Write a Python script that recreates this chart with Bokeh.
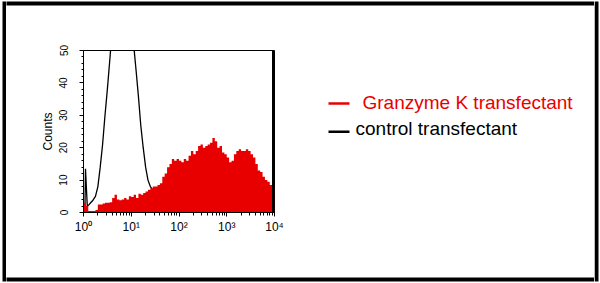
from bokeh.plotting import figure
from bokeh.layouts import row, column
from bokeh.models import Range1d, SingleIntervalTicker, LogTicker, Span
from bokeh.core.properties import value
from bokeh.embed import file_html
from bokeh.resources import INLINE

# ---- data -------------------------------------------------------------
# Granzyme K transfectant histogram: counts per bin, bins 0.05 decade wide from 10^0 to 10^4
bin_width_dec = 0.05
gzk_counts = [3, 2, 0.5, 0.5, 0.5, 0.8, 2.5, 2.5, 2.8, 3,
              3, 3.2, 4.5, 5.5, 4, 3.8, 4, 4.5, 4, 5,
              4.8, 5.5, 4.5, 5.8, 5.5, 6, 6.5, 7, 7.5, 8,
              8, 8.5, 9, 11, 12, 14, 15, 16.5, 16, 16.5,
              16, 15.5, 16.5, 16, 17.5, 19, 18, 19, 20.5, 21,
              20, 20.5, 21, 21.5, 23, 22, 20, 20.5, 18.5, 18,
              17, 15.5, 16, 18, 19, 19.5, 19, 19, 19.5, 19,
              18, 17, 15, 13, 12.5, 11, 10, 9.5, 8.5, 8]

# control transfectant histogram outline (fluorescence, counts)
ctrl_fl = [1.07, 1.10, 1.20, 1.32, 1.41, 1.58, 1.78, 2.00, 2.24, 2.51, 2.82,
           3.16, 3.55, 3.98, 5.01, 6.31, 7.94, 10.0, 11.2, 12.6, 14.1, 15.8,
           17.8, 20.0, 22.4, 25.1, 28.2, 31.6, 39.8, 63.1, 100, 316, 1000, 10000]
ctrl_counts = [0, 13.5, 2, 2.5, 3, 3.8, 5, 8, 14, 21, 30,
               38, 47, 56, 66, 70, 66, 58, 52, 44, 36, 27,
               20, 14, 10, 8, 7, 6, 5, 3, 2, 1, 0.5, 0]

x_ticks = [1, 10, 100, 1000, 10000]
x_tick_labels = ["10\u2070", "10\u00b9", "10\u00b2", "10\u00b3", "10\u2074"]

series_names = ["Granzyme K transfectant", "control transfectant"]
series_colors = ["#e80000", "#000000"]

FONT = "Liberation Sans"
W, H = 600, 283
TOP, BOT = 30, 30          # heights of the top / bottom frame strips
SIDE = 6                   # widths of the left / right frame strips
MID_H = H - TOP - BOT
SPLIT = 290                # x where the histogram panel ends and the legend panel begins


def pixel_panel(x0, x1, y0, y1):
    """A bare figure whose data coordinates are page pixels (y downward)."""
    f = figure(width=x1 - x0, height=y1 - y0, output_backend="svg", title=None,
               toolbar_location=None, x_range=Range1d(x0, x1), y_range=Range1d(y1, y0),
               x_axis_location=None, y_axis_location=None, frame_align=False,
               min_border=0, min_border_left=0, min_border_right=0,
               min_border_top=0, min_border_bottom=0)
    f.background_fill_color = "white"
    f.border_fill_color = "white"
    f.outline_line_color = None
    f.xgrid.visible = False
    f.ygrid.visible = False
    return f


# ---- outer black frame: full-height side strips, top/bottom strips between them
left_strip = pixel_panel(0, SIDE, 0, H)
left_strip.quad(left=2, right=6, top=1, bottom=281, fill_color="black", line_color=None)
right_strip = pixel_panel(W - SIDE, W, 0, H)
right_strip.quad(left=594, right=598, top=1, bottom=281, fill_color="black", line_color=None)
top_strip = pixel_panel(SIDE, W - SIDE, 0, TOP)
top_strip.quad(left=SIDE - 1, right=W - SIDE + 1, top=1, bottom=5, fill_color="black", line_color=None)
bot_strip = pixel_panel(SIDE, W - SIDE, H - BOT, H)
bot_strip.quad(left=SIDE - 1, right=W - SIDE + 1, top=277, bottom=281, fill_color="black", line_color=None)

# ---- histogram figure ---------------------------------------------------
p = figure(width=SPLIT - SIDE, height=MID_H, output_backend="svg", toolbar_location=None,
           title=None, frame_align=False,
           x_axis_type="log", x_range=Range1d(1, 10000), y_range=Range1d(0, 50),
           min_border_left=83 - SIDE, min_border_right=SPLIT - 274,
           min_border_top=50 - TOP, min_border_bottom=(H - BOT) - 212)
p.background_fill_color = "white"
p.border_fill_color = "white"
p.outline_line_color = "black"
p.outline_line_width = 1
p.xgrid.visible = False
p.ygrid.visible = False

n = len(gzk_counts)
edges = [10 ** (bin_width_dec * i) for i in range(n + 1)]

p.line(ctrl_fl, ctrl_counts, line_color=series_colors[1], line_width=1.3)
p.varea_step(x=edges, y1=[0] * (n + 1), y2=gzk_counts + [gzk_counts[-1]],
             step_mode="after", fill_color=series_colors[0])
p.add_layout(Span(location=10000, dimension="height", line_color="black", line_width=5))

xa = p.xaxis[0]
xa.ticker = LogTicker(desired_num_ticks=5, num_minor_ticks=10)
xa.major_label_overrides = {t: l for t, l in zip(x_ticks, x_tick_labels)}
xa.major_label_text_font = FONT
xa.major_label_text_font_size = "12px"
xa.major_label_text_color = "black"
xa.major_tick_in = 0
xa.major_tick_out = 4
xa.minor_tick_in = 0
xa.minor_tick_out = 3
xa.major_label_standoff = 3
xa.axis_line_color = "black"

ya = p.yaxis[0]
ya.ticker = SingleIntervalTicker(interval=10, num_minor_ticks=5)
ya.major_label_orientation = "vertical"
ya.major_label_text_font = FONT
ya.major_label_text_font_size = "10px"
ya.major_label_text_color = "black"
ya.major_tick_in = 0
ya.major_tick_out = 4
ya.minor_tick_in = 0
ya.minor_tick_out = 2
ya.major_label_standoff = 12
ya.axis_label = "Counts"
ya.axis_label_text_font = FONT
ya.axis_label_text_font_size = "12px"
ya.axis_label_text_font_style = "normal"
ya.axis_label_text_color = "black"
ya.axis_label_standoff = 2

# ---- legend panel ---------------------------------------------------------
q = pixel_panel(SPLIT, W - SIDE, TOP, H - BOT)

legend_swatch_x0 = [328, 328]
legend_swatch_x1 = [349, 349]
legend_swatch_y = [103, 131.3]
legend_text_x = [362, 355]
legend_text_y = [102, 127.5]

q.segment(x0=legend_swatch_x0, x1=legend_swatch_x1, y0=legend_swatch_y,
          y1=legend_swatch_y, line_color=series_colors, line_width=2.6)
q.text(x=legend_text_x, y=legend_text_y, text=series_names,
       text_color=series_colors, text_font=value(FONT), text_font_size="19px",
       text_baseline="middle", text_align="left")

middle = column(top_strip, row(p, q, spacing=0), bot_strip, spacing=0)
layout = row(left_strip, middle, right_strip, spacing=0)

open("out.html", "w").write(file_html(layout, INLINE))
